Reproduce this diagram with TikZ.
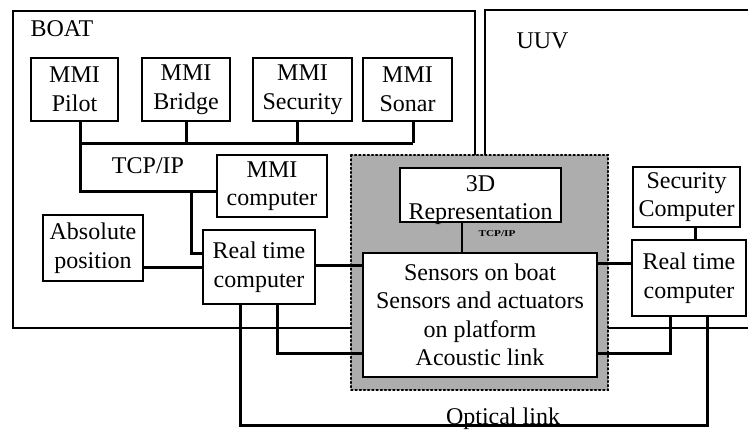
\documentclass[tikz,border=0pt]{standalone}
\usepackage{fontspec}
\setmainfont{Liberation Serif}
\begin{document}
\begin{tikzpicture}[x=1pt,y=-1pt,
  every node/.style={font=\fontsize{24}{28.5}\selectfont},
  box/.style={draw, line width=1.4pt, fill=white, inner sep=0pt, align=center},
  frame/.style={line width=1.8pt},
  bus/.style={line width=3pt},
  link/.style={line width=1.6pt},
  zone/.style={fill=black!32, draw, line width=2.2pt, dash pattern=on 1.4pt off 2.8pt, line cap=round}
]
\useasboundingbox (0,0) rectangle (748,431);

% outer frames for the boat and the vehicle
\draw[frame] (13,11) rectangle (475,328);
\draw[frame] (748,10) -- (485,10) -- (485,160);
\draw[frame] (600,328) -- (748,328);
\node[anchor=west] (boatlbl) at (27,29) {BOAT};
\node[anchor=west] (uuvlbl) at (513,41) {UUV};

% shared zone (shaded)
\draw[zone] (351,155) rectangle (608,390);

% boat side
\node[box, minimum width=87pt, minimum height=63pt] (pilot) at (74.5,89.5) {MMI\\Pilot};
\node[box, minimum width=88pt, minimum height=63pt] (bridge) at (186,89.5) {MMI\\Bridge};
\node[box, minimum width=99pt, minimum height=63pt] (security) at (302.5,89.5) {MMI\\Security};
\node[box, minimum width=89pt, minimum height=63pt] (sonar) at (407.5,89.5) {MMI\\Sonar};
\node[box, minimum width=110pt, minimum height=62pt] (mmicomp) at (272,186) {MMI\\computer};
\node[box, minimum width=100pt, minimum height=66pt] (abspos) at (93,248) {Absolute\\position};
\node[box, minimum width=112pt, minimum height=74pt] (rtcb) at (259,267) {Real time\\computer};

% shared zone contents
\node[box, minimum width=161pt, minimum height=54pt] (rep3d) at (480.5,195) {};
\node[inner sep=0pt, align=center] (rep3dtxt) at ([yshift=-5pt]rep3d.center) {3D\\Representation};
\node[box, minimum width=234pt, minimum height=124pt] (sensors) at (480,315) {Sensors on boat\\Sensors and actuators\\on platform\\Acoustic link};

% vehicle side
\node[box, minimum width=107pt, minimum height=60pt] (seccomp) at (686.5,197) {Security\\Computer};
\node[box, minimum width=114pt, minimum height=76pt] (rtcu) at (689,278) {Real time\\computer};

% TCP/IP bus on the boat
\coordinate (busL) at (80,143);
\coordinate (busR) at (413,143);
\draw[bus] (busL) -- (busR);
\draw[bus] (pilot.south -| busL) -- (busL);
\draw[bus] (bridge.south) -- (bridge.south |- busL);
\coordinate (secx) at (297,0);
\draw[bus] (security.south -| secx) -- (busL -| secx);
\draw[bus] (sonar.south -| busR) -- (busR);
\coordinate (tj) at (80,191);
\draw[bus] (busL) -- (tj) -- (tj -| mmicomp.west);
\node (tcpip) at (148,166) {TCP/IP};
\coordinate (tv) at (191,191);
\draw[bus] (tv) |- ([yshift=14pt]rtcb.west);

% boat real time computer links
\draw[bus] (abspos.east |- rtcb.west) -- (rtcb.west);
\coordinate (rb) at (0,265);
\draw[bus] (rtcb.east |- rb) -- (sensors.west |- rb);
\coordinate (d1) at (277,353);
\draw[bus] (d1 |- rtcb.south) |- (d1 -| sensors.west);

% 3D representation link
\coordinate (rv) at (462,0);
\draw[link] (rep3d.south -| rv) -- (sensors.north -| rv);
\node[font=\fontsize{9}{9}\selectfont\bfseries, xscale=1.25, inner sep=0pt] (tcpsmall) at (497,234) {TCP/IP};

% vehicle links
\coordinate (ru) at (0,263);
\draw[bus] (sensors.east |- ru) -- (rtcu.west |- ru);
\coordinate (sv) at (695,0);
\draw[bus] (seccomp.south -| sv) -- (rtcu.north -| sv);
\coordinate (d2) at (670,353);
\draw[bus] (d2 |- rtcu.south) |- (d2 -| sensors.east);

% optical link
\coordinate (oL) at (240,425);
\coordinate (oR) at (707,425);
\draw[bus] (oL |- rtcb.south) -- (oL) -- (oR) -- (oR |- rtcu.south);
\node[anchor=base, inner sep=0pt] (optlbl) at (503,424) {Optical link};
\end{tikzpicture}
\end{document}
